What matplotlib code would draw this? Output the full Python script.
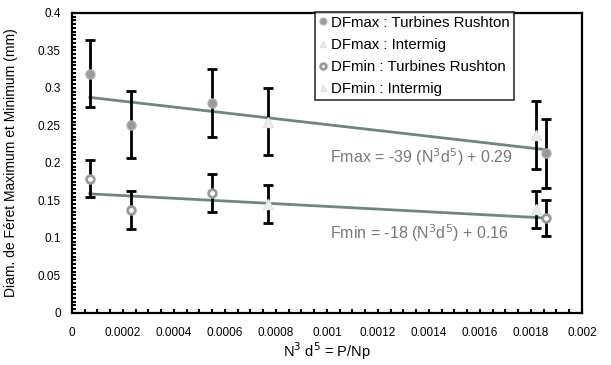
import matplotlib.pyplot as plt
import numpy as np
from matplotlib.ticker import MultipleLocator

plt.rcParams['font.family'] = ['Liberation Sans', 'DejaVu Sans']

# Rushton turbines
x_rushton = [0.00007, 0.000233, 0.00055, 0.00186]
dfmax_rushton = [0.319, 0.251, 0.280, 0.213]
dfmax_rushton_err = [0.045, 0.045, 0.045, 0.046]
dfmin_rushton = [0.179, 0.137, 0.160, 0.126]
dfmin_rushton_err = [0.025, 0.025, 0.025, 0.024]

# Intermig impellers
x_intermig = [0.00077, 0.00182]
dfmax_intermig = [0.255, 0.237]
dfmax_intermig_err = [0.045, 0.045]
dfmin_intermig = [0.145, 0.138]
dfmin_intermig_err = [0.025, 0.025]

# linear fits
fmax_slope, fmax_icpt = -39, 0.29
fmin_slope, fmin_icpt = -18, 0.16

fig = plt.figure(figsize=(6.11, 3.65), dpi=100)
ax = fig.add_axes([0.1178, 0.1425, 0.8347, 0.8225])

line_col = '#6f8585'
x_fit = np.array([x_rushton[0], x_rushton[-1]])
ax.plot(x_fit, fmax_slope * x_fit + fmax_icpt, color=line_col, lw=2, zorder=2)
ax.plot(x_fit, fmin_slope * x_fit + fmin_icpt, color=line_col, lw=2, zorder=2)

eb = dict(fmt='none', ecolor='black', elinewidth=2, capsize=3.5, capthick=2, zorder=3)
ax.errorbar(x_rushton, dfmax_rushton, yerr=dfmax_rushton_err, **eb)
ax.errorbar(x_intermig, dfmax_intermig, yerr=dfmax_intermig_err, **eb)
ax.errorbar(x_rushton, dfmin_rushton, yerr=dfmin_rushton_err, **eb)
ax.errorbar(x_intermig, dfmin_intermig, yerr=dfmin_intermig_err, **eb)

h1, = ax.plot(x_rushton, dfmax_rushton, 'o', ms=6.5, mfc='#9a9a9a', mec='#b0b0b0',
              mew=1, ls='none', zorder=4, label='DFmax : Turbines Rushton')
h2, = ax.plot(x_intermig, dfmax_intermig, '^', ms=6.5, mfc='#ececec', mec='#e2e2e2',
              ls='none', zorder=4, label='DFmax : Intermig')
h3, = ax.plot(x_rushton, dfmin_rushton, 'o', ms=5.5, mfc='white', mec='#9a9a9a',
              mew=2, ls='none', zorder=4, label='DFmin : Turbines Rushton')
h4, = ax.plot(x_intermig, dfmin_intermig, '^', ms=6.5, mfc='#ededed', mec='#e4e4e4',
              ls='none', zorder=4, label='DFmin : Intermig')

ax.text(0.00101, 0.208, 'Fmax = -39 (N$^3$d$^5$) + 0.29', fontsize=11.5,
        color='#777777', va='center')
ax.text(0.00101, 0.106, 'Fmin = -18 (N$^3$d$^5$) + 0.16', fontsize=11.5,
        color='#777777', va='center')

ax.set_xlim(0, 0.002)
ax.set_ylim(0, 0.4)
ax.xaxis.set_major_locator(MultipleLocator(0.0002))
ax.xaxis.set_minor_locator(MultipleLocator(0.00005))
ax.yaxis.set_major_locator(MultipleLocator(0.05))
ax.yaxis.set_minor_locator(MultipleLocator(0.005))
ax.xaxis.set_major_formatter(plt.FuncFormatter(lambda v, p: f'{v:.4f}'.rstrip('0').rstrip('.') if v else '0'))
ax.yaxis.set_major_formatter(plt.FuncFormatter(lambda v, p: f'{v:.2f}'.rstrip('0').rstrip('.') if v else '0'))
ax.tick_params(which='both', direction='in', length=3, width=1.5, labelsize=8.5,
               color='black')
ax.tick_params(axis='x', which='both', pad=10)
ax.tick_params(axis='y', which='both', pad=8)
for s in ax.spines.values():
    s.set_linewidth(1.6)

ax.set_xlabel('N$^3$ d$^5$ = P/Np', fontsize=10.5, labelpad=1)
ax.set_ylabel('Diam. de Féret Maximum et Minimum (mm)', fontsize=10, labelpad=14)

leg = ax.legend(handles=[h1, h2, h3, h4], loc='upper right', bbox_to_anchor=(0.866, 1.003),
                fontsize=10.8, frameon=True, fancybox=False, borderaxespad=0,
                handlelength=0.5, handletextpad=0.3, labelspacing=0.55,
                borderpad=0.25, markerscale=0.75)
leg.get_frame().set_edgecolor('black')
leg.get_frame().set_linewidth(1.2)

fig.savefig('out.png', dpi=100)
